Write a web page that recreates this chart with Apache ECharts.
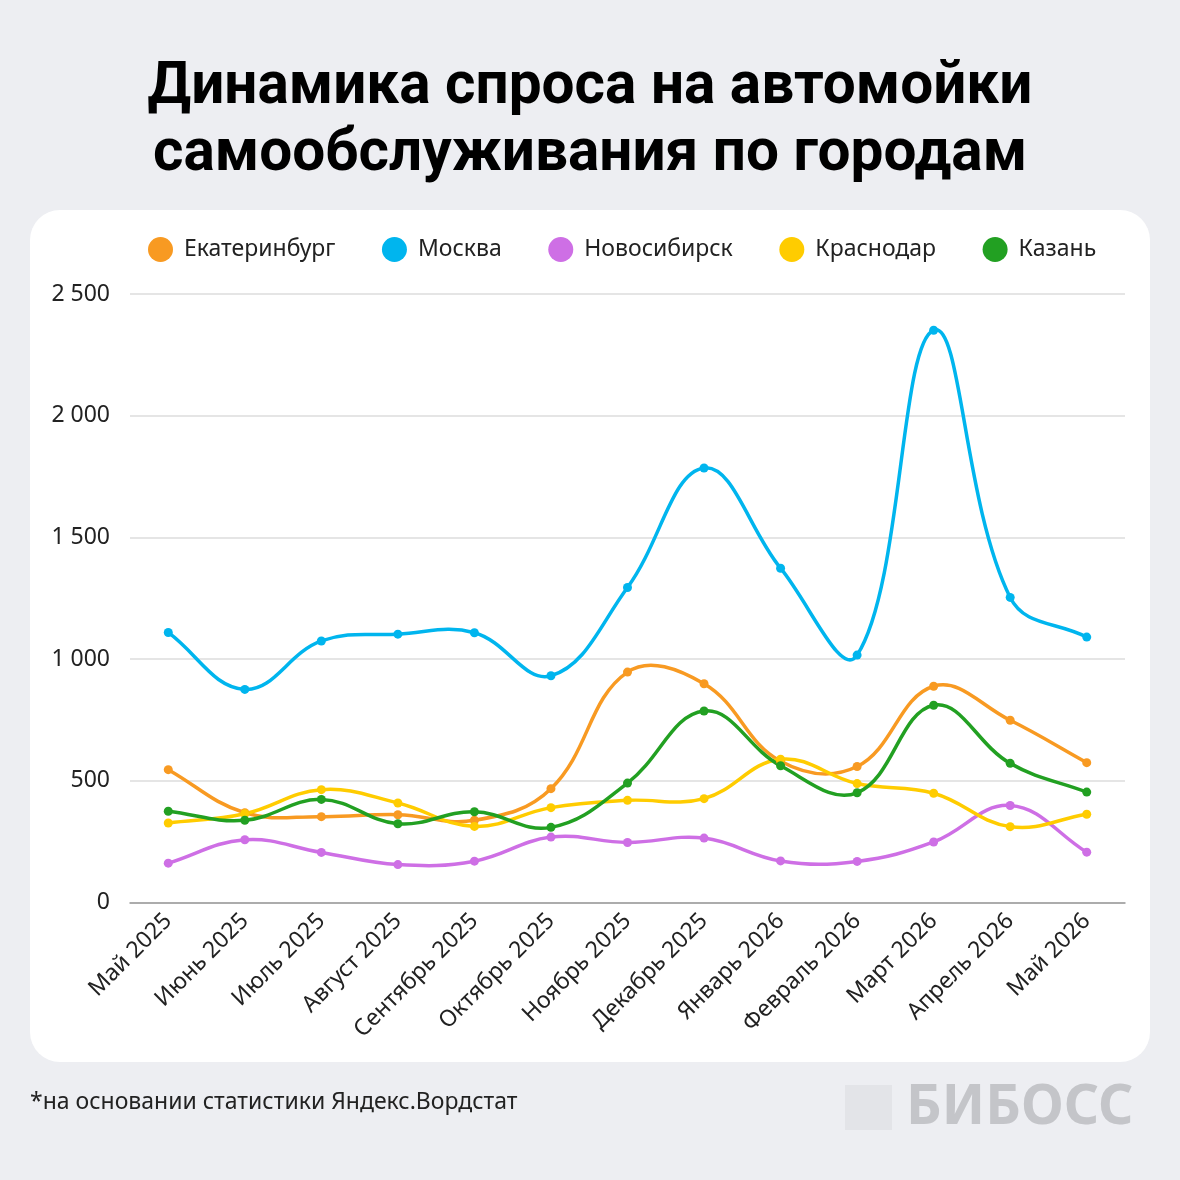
<!DOCTYPE html>
<html><head><meta charset="utf-8">
<script src="https://cdn.jsdelivr.net/npm/echarts@6/dist/echarts.min.js"></script>
<style>html,body{margin:0;padding:0;background:#EDEEF2;}#c{width:1180px;height:1180px;}</style>
</head><body><div id="c"></div>
<script>
var categories = ['Май 2025','Июнь 2025','Июль 2025','Август 2025','Сентябрь 2025','Октябрь 2025','Ноябрь 2025','Декабрь 2025','Январь 2026','Февраль 2026','Март 2026','Апрель 2026','Май 2026'];
var ekb = [545,368,352,360,337,467,946,898,580,558,888,748,574];
var msk = [1109,875,1074,1102,1108,931,1294,1785,1373,1016,2351,1253,1090];
var nsk = [161,257,205,155,169,268,246,264,170,168,248,398,206];
var krd = [326,364,463,408,312,389,419,426,588,488,448,311,362];
var kzn = [374,337,423,323,372,308,490,786,561,450,810,571,453];
var yTicks = [0,500,1000,1500,2000,2500];
var seriesNames = ['Екатеринбург','Москва','Новосибирск','Краснодар','Казань'];
var seriesData = [ekb, msk, nsk, krd, kzn];
var colors = ['#F89A22','#00B5EE','#CE6FE5','#FFCC00','#22A022'];
var TENSION = 0.4;

function splinePath(pts){
  var n = pts.length, cps = [];
  for (var i=0;i<n;i++){
    var p = pts[i], pr = pts[i-1]||p, nx = pts[i+1]||p;
    var d01 = Math.hypot(p[0]-pr[0],p[1]-pr[1]), d12 = Math.hypot(nx[0]-p[0],nx[1]-p[1]);
    var s01 = d01/(d01+d12), s12 = d12/(d01+d12);
    if (!isFinite(s01)) s01 = 0; if (!isFinite(s12)) s12 = 0;
    var fa = TENSION*s01, fb = TENSION*s12;
    cps.push({prev:[p[0]-fa*(nx[0]-pr[0]), p[1]-fa*(nx[1]-pr[1])], next:[p[0]+fb*(nx[0]-pr[0]), p[1]+fb*(nx[1]-pr[1])]});
  }
  var d = 'M'+pts[0][0]+' '+pts[0][1];
  for (var j=0;j<n-1;j++){
    d += ' C'+cps[j].next[0]+' '+cps[j].next[1]+' '+cps[j+1].prev[0]+' '+cps[j+1].prev[1]+' '+pts[j+1][0]+' '+pts[j+1][1];
  }
  return d;
}

var chart = echarts.init(document.getElementById('c'), null, {renderer:'canvas'});
var lineSeries = [], curveSeries = [];
seriesNames.forEach(function(n,i){
  var arr = seriesData[i];
  lineSeries.push({name:n,type:'line',data:arr,symbol:'circle',symbolSize:9,
    lineStyle:{width:0,opacity:0},itemStyle:{color:colors[i]},z:10+i});
  curveSeries.push({name:n,type:'custom',data:arr.map(function(v,j){return [j,v];}),z:2+i,silent:true,
    itemStyle:{color:colors[i]},
    renderItem:function(params, api){
      if (params.dataIndex !== 0) return null;
      var pts = arr.map(function(v,j){return api.coord([j,v]);});
      return {type:'path',shape:{pathData:splinePath(pts)},style:{stroke:colors[i],fill:'none',lineWidth:3.5,lineJoin:'round',lineCap:'round'}};
    }});
});

chart.setOption({
  backgroundColor:'#EDEEF2',
  animation:false,
  color:colors,
  graphic:[
    {type:'rect',shape:{x:30,y:210,width:1120,height:852,r:30},style:{fill:'#ffffff'},z:-10,silent:true},
    {type:'text',x:590,y:88,style:{text:'Динамика спроса на автомойки',font:'bold 58.5px Roboto',fill:'#000',align:'center',verticalAlign:'middle'},z:10},
    {type:'text',x:590,y:155,style:{text:'самообслуживания по городам',font:'bold 58.5px Roboto',fill:'#000',align:'center',verticalAlign:'middle'},z:10},
    {type:'text',x:30,y:1102,style:{text:'*на основании статистики Яндекс.Вордстат',font:'23px "Noto Sans"',fill:'#222',verticalAlign:'middle'},z:10},
    {type:'rect',shape:{x:845,y:1085,width:47,height:45},style:{fill:'#E3E4E8'},z:10},
    {type:'text',x:906,y:1108,style:{text:'БИБОСС',font:'bold 55px "Noto Sans"',fill:'#C4C5C9',verticalAlign:'middle'},z:10}
  ],
  legend:{top:232,left:143,itemWidth:25,itemHeight:25,itemGap:46.5,icon:'circle',
    textStyle:{fontFamily:'"Noto Sans"',fontSize:23,color:'#222',padding:[0,0,0,6]},data:seriesNames},
  grid:{left:130,right:55,top:294,bottom:277.7,containLabel:false},
  xAxis:{type:'category',data:categories,boundaryGap:true,
    axisLine:{show:true,lineStyle:{color:'#999',width:1.5}},axisTick:{show:false},
    axisLabel:{rotate:45,fontFamily:'"Noto Sans"',fontSize:23,color:'#222',margin:15,interval:0}},
  yAxis:{type:'value',min:0,max:2500,interval:500,
    axisLine:{show:false},axisTick:{show:false},
    splitLine:{lineStyle:{color:'#DCDCDC',width:1.5}},
    axisLabel:{fontFamily:'"Noto Sans"',fontSize:23,color:'#222',margin:20,
      formatter:function(v){return yTicks.indexOf(v)>=0 ? String(v).replace(/\B(?=(\d{3})+(?!\d))/g,' ') : '';}}},
  series:lineSeries.concat(curveSeries)
});
</script></body></html>
